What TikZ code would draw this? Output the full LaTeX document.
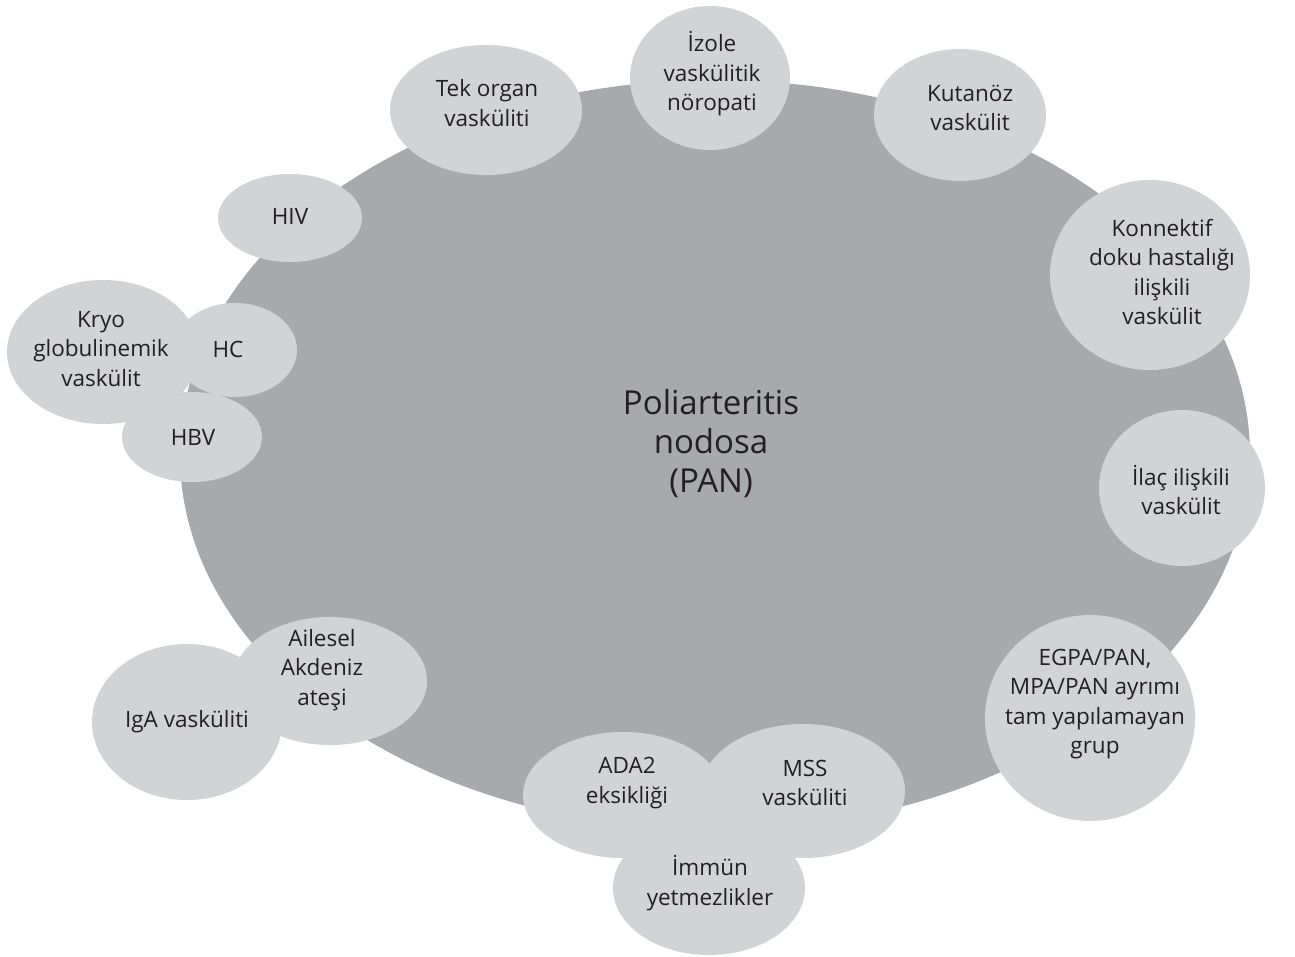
\documentclass[tikz,border=0pt]{standalone}
\usepackage{fontspec}
\setmainfont{Open Sans}
\usetikzlibrary{shapes.geometric}
\definecolor{bigfill}{HTML}{A7A9AC}
\definecolor{bubfill}{HTML}{D1D3D4}
\definecolor{ink}{HTML}{231F20}
\begin{document}
\begin{tikzpicture}[x=1pt,y=-1pt,
  bub/.style={ellipse,fill=bubfill,draw=none,inner sep=0pt},
  txt/.style={align=center,text=ink,font=\fontsize{22.5}{29.5}\selectfont,inner sep=0pt},
  title/.style={align=center,text=ink,font=\fontsize{33}{39}\selectfont,inner sep=0pt}]
\useasboundingbox (0,0) rectangle (1295,957);
\fill[white] (0,0) rectangle (1295,957);
\node[ellipse,fill=bigfill,inner sep=0pt,minimum width=1070pt,minimum height=750pt] (pan) at (715,455) {};
\node[title] (panT) at (711,444) {Poliarteritis\\nodosa\\(PAN)};

\node[bub,minimum width=192pt,minimum height=130pt] (tek) at (486,110) {};
\node[bub,minimum width=160pt,minimum height=144pt] (izo) at (710,78) {};
\node[bub,minimum width=172pt,minimum height=132pt] (kut) at (960,115) {};
\node[bub,minimum width=144pt,minimum height=88pt] (hiv) at (290,218) {};
\node[bub,minimum width=200pt,minimum height=190pt] (kon) at (1150,275) {};
\node[bub,minimum width=192pt,minimum height=144pt] (kryo) at (103,352) {};
\node[bub,minimum width=124pt,minimum height=94pt] (hc) at (235,350) {};
\node[bub,minimum width=140pt,minimum height=90pt] (hbv) at (192,437) {};
\node[bub,minimum width=166pt,minimum height=156pt] (ilac) at (1182,488) {};
\node[bub,minimum width=210pt,minimum height=206pt] (egpa) at (1090,718) {};
\node[bub,minimum width=190pt,minimum height=156pt] (iga) at (187,722) {};
\node[bub,minimum width=194pt,minimum height=128pt] (fmf) at (330,681) {};
\node[bub,minimum width=192pt,minimum height=134pt] (imm) at (709,888) {};
\node[bub,minimum width=200pt,minimum height=126pt] (ada) at (623,795) {};
\node[bub,minimum width=204pt,minimum height=134pt] (mss) at (803,791) {};

\node[txt] (tekT) at (487,103) {Tek organ\\vasküliti};
\node[txt] (izoT) at (712,74) {İzole\\vaskülitik\\nöropati};
\node[txt] (kutT) at (970,108) {Kutanöz\\vaskülit};
\node[txt] (hivT) at (290,216) {HIV};
\node[txt] (konT) at (1162,272) {Konnektif\\doku hastalığı\\ilişkili\\vaskülit};
\node[txt] (kryoT) at (101,349) {Kryo\\globulinemik\\vaskülit};
\node[txt] (hcT) at (228,349) {HC};
\node[txt] (hbvT) at (193,437) {HBV};
\node[txt] (ilacT) at (1181,490) {İlaç ilişkili\\vaskülit};
\node[txt] (egpaT) at (1095,704) {EGPA/PAN,\\MPA/PAN ayrımı\\tam yapılamayan\\grup};
\node[txt] (fmfT) at (322,670) {Ailesel\\Akdeniz\\ateşi};
\node[txt] (igaT) at (187,722) {IgA vasküliti};
\node[txt] (adaT) at (627,783) {ADA2\\eksikliği};
\node[txt] (mssT) at (805,783) {MSS\\vasküliti};
\node[txt] (immT) at (710,883) {İmmün\\yetmezlikler};
\end{tikzpicture}
\end{document}
